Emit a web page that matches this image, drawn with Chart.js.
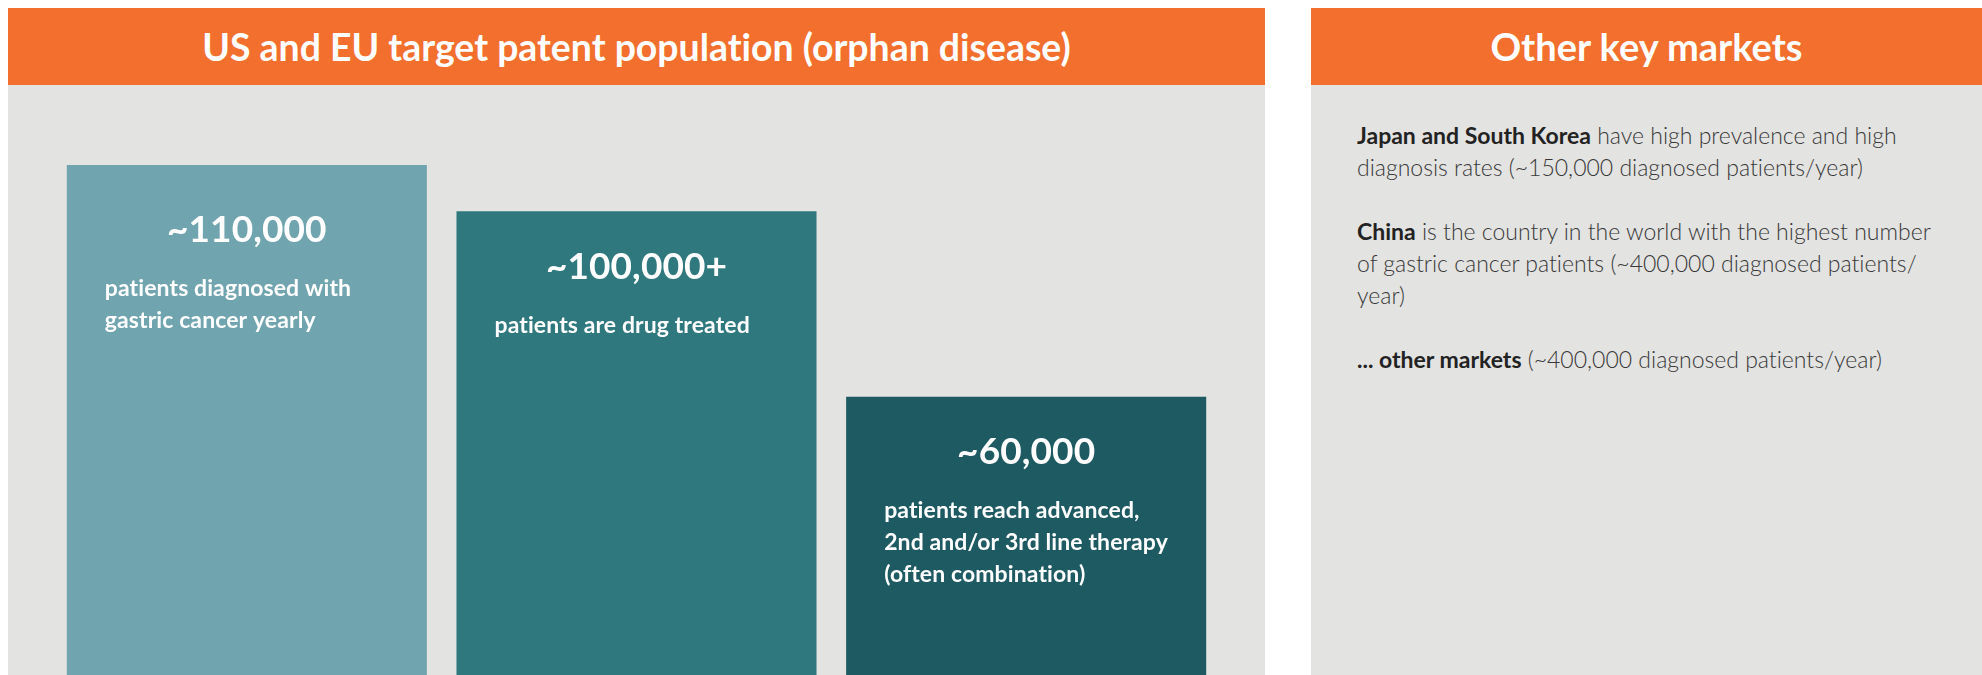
<!DOCTYPE html>
<html>
<head>
<meta charset="utf-8">
<script src="https://cdn.jsdelivr.net/npm/chart.js@4.4.1/dist/chart.umd.min.js"></script>
<style>
  html, body { margin: 0; padding: 0; background: #fff; }
  body {
    width: 1982px; height: 675px; position: relative; overflow: hidden;
    font-family: Lato, sans-serif; font-variant-ligatures: none;
  }
  .panel { position: absolute; top: 8px; height: 667px; background: #e3e3e1; }
  .panel-head {
    height: 77px; line-height: 77px; background: #f26f2d; color: #fff;
    text-align: center; font-weight: 700; font-size: 38px;
  }
  #left { left: 8px; width: 1257px; }
  #left .panel-head { font-size: 37.4px; }
  #right { left: 1311px; width: 671px; }
  #chart-wrap { position: absolute; left: 0; top: 77px; width: 1257px; height: 590px; }
  .notes {
    padding: 34px 0 0 46px; font-size: 23px; line-height: 32px;
    font-weight: 300; color: #383838; white-space: nowrap;
  }
  .notes p { margin: 0 0 32px 0; }
  .notes b { font-weight: 700; color: #222; }
</style>
</head>
<body>
<div class="panel" id="left">
  <div class="panel-head">US and EU target patent population (orphan disease)</div>
  <div id="chart-wrap"><canvas id="chart"></canvas></div>
</div>
<div class="panel" id="right">
  <div class="panel-head">Other key markets</div>
  <div class="notes">
    <p><b>Japan and South Korea</b> have high prevalence and high<br>diagnosis rates (~150,000 diagnosed patients/year)</p>
    <p><b>China</b> is the country in the world with the highest number<br>of gastric cancer patients (~400,000 diagnosed patients/<br>year)</p>
    <p><b>... other markets</b> (~400,000 diagnosed patients/year)</p>
  </div>
</div>
<script>
const categories = ['Diagnosed yearly', 'Drug treated', 'Advanced therapy'];
const patientCounts = [110000, 100000, 60000];
const countLabels = ['~110,000', '~100,000+', '~60,000'];
const descriptions = [
  ['patients diagnosed with', 'gastric cancer yearly'],
  ['patients are drug treated'],
  ['patients reach advanced,', '2nd and/or 3rd line therapy', '(often combination)']
];

// texte dans les barres
const barText = {
  id: 'barText',
  afterDatasetsDraw(chart, args, opts) {
    const ctx = chart.ctx;
    const bars = chart.getDatasetMeta(0).data;
    ctx.save();
    ctx.fillStyle = '#fff';
    ctx.textBaseline = 'alphabetic';
    ctx.letterSpacing = '0.1px'; // pas de ligature "ti"
    bars.forEach((bar, i) => {
      const left = bar.x - bar.width / 2;
      const numY = bar.y + opts.numberOffsets[i];
      ctx.font = '700 37px Lato';
      ctx.textAlign = 'center';
      ctx.fillText(countLabels[i], bar.x, numY);
      ctx.font = '700 23px Lato';
      ctx.textAlign = 'left';
      descriptions[i].forEach((line, j) => {
        ctx.fillText(line, left + 38, numY + 54 + j * 32);
      });
    });
    ctx.restore();
  }
};

function drawChart() {
  new Chart(document.getElementById('chart'), {
    type: 'bar',
    data: {
      labels: categories,
      datasets: [{
        data: patientCounts,
        backgroundColor: ['#70a4ae', '#2e787e', '#1e5a62'],
        borderWidth: 0,
        barPercentage: 0.924,
        categoryPercentage: 1
      }]
    },
    options: {
      responsive: true,
      maintainAspectRatio: false,
      animation: false,
      layout: { padding: { top: 80, left: 44, right: 44, bottom: 0 } },
      plugins: {
        legend: { display: false },
        tooltip: { enabled: false },
        barText: { numberOffsets: [77, 68, 67] }
      },
      scales: {
        x: { display: false },
        y: { display: false, min: 0, max: 110000 }
      }
    },
    plugins: [barText]
  });
}

document.fonts.load('700 37px Lato').then(drawChart, drawChart);
</script>
</body>
</html>
